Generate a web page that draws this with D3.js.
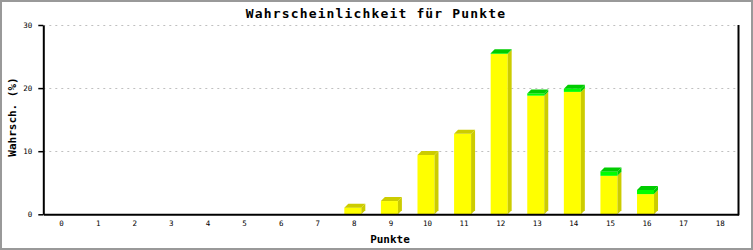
<!DOCTYPE html>
<html><head><meta charset="utf-8">
<script src="https://cdn.jsdelivr.net/npm/d3@7"></script>
<style>
html,body{margin:0;padding:0;background:#fff;}
svg{display:block;}
</style></head>
<body><svg id="c" width="753" height="250"></svg>
<script>
const categories = ["0","1","2","3","4","5","6","7","8","9","10","11","12","13","14","15","16","17","18"];
const yellowValues = [0,0,0,0,0,0,0,0,1.05,2.1,9.4,12.75,25.4,18.8,19.4,6.1,3.2,0,0];
const greenValues  = [0,0,0,0,0,0,0,0,0,0,0,0,0.12,0.35,0.5,0.7,0.65,0,0];
const yTicks = [0,10,20,30];
const title = "Wahrscheinlichkeit für Punkte";
const xTitle = "Punkte";
const yTitle = "Wahrsch. (%)";

const svg = d3.select("#c");
const L = 43.3, R = 738.5, T = 25, B = 214.3;
const x = d3.scaleBand().domain(categories).range([L, R]);
const y = d3.scaleLinear().domain([0,30]).range([B, T]);
const dx = 4, dy = 4, bw = 17;

svg.append("rect").attr("x",1).attr("y",1).attr("width",751).attr("height",248)
  .attr("fill","#fff").attr("stroke","#999").attr("stroke-width",2);

// grid
svg.append("g").selectAll("line").data(yTicks.filter(d=>d>0)).join("line")
  .attr("x1",L).attr("x2",R).attr("y1",d=>Math.round(y(d))+0.5).attr("y2",d=>Math.round(y(d))+0.5)
  .attr("stroke","#c0c0c0").attr("stroke-width",1).attr("stroke-dasharray","2,4");

// bars
const g = svg.append("g");
categories.forEach((c,i)=>{
  const segs = [
    {v0:0, v1:yellowValues[i], front:"#ffff00", side:"#cccc00", top:"#cccc00"},
    {v0:yellowValues[i], v1:yellowValues[i]+greenValues[i], front:"#00ff00", side:"#00cc00", top:"#00cc00"}
  ].filter(s=>s.v1>s.v0);
  if(!segs.length) return;
  const x0 = x(c) + x.bandwidth()/2 - bw/2 - 1.5;
  const x1 = x0 + bw;
  segs.forEach((s,k)=>{
    const yt = y(s.v1), yb = y(s.v0);
    g.append("rect").attr("x",x0).attr("y",yt).attr("width",bw).attr("height",yb-yt).attr("fill",s.front);
    g.append("polygon").attr("points",[[x1,yb],[x1,yt],[x1+dx,yt-dy],[x1+dx,yb-dy]].map(p=>p.join(",")).join(" "))
      .attr("fill",s.side);
    if(k===segs.length-1){
      g.append("polygon").attr("points",[[x0,yt],[x0+dx,yt-dy],[x1+dx,yt-dy],[x1,yt]].map(p=>p.join(",")).join(" "))
        .attr("fill",s.top);
    }
  });
});

// axes
const ya = svg.append("g").attr("transform",`translate(${L},0)`)
  .call(d3.axisLeft(y).tickValues(yTicks).tickSize(5).tickSizeOuter(0).tickPadding(6));
ya.select(".domain").attr("stroke","#000").attr("stroke-width",2);
ya.selectAll(".tick line").attr("stroke","#000").attr("stroke-width",1.5);
ya.selectAll("text").attr("font-family","DejaVu Sans Mono").attr("font-size","7.5px").attr("fill","#000");

const xa = svg.append("g").attr("transform",`translate(0,${B})`)
  .call(d3.axisBottom(x).tickSize(0).tickPadding(6));
xa.select(".domain").attr("stroke","#000").attr("stroke-width",2);
xa.selectAll("text").attr("font-family","DejaVu Sans Mono").attr("font-size","7.5px").attr("fill","#000");

svg.append("line").attr("x1",R).attr("x2",R).attr("y1",T).attr("y2",B+1)
  .attr("stroke","#000").attr("stroke-width",2);

// titles
svg.append("text").attr("x",376).attr("y",18).attr("text-anchor","middle")
  .attr("font-family","DejaVu Sans Mono").attr("font-weight","bold").attr("font-size","13px")
  .attr("letter-spacing","1.15px").text(title);
svg.append("text").attr("x",390).attr("y",243).attr("text-anchor","middle")
  .attr("font-family","DejaVu Sans Mono").attr("font-weight","bold").attr("font-size","11px").text(xTitle);
svg.append("text").attr("transform","translate(16,117) rotate(-90)").attr("text-anchor","middle")
  .attr("font-family","DejaVu Sans Mono").attr("font-weight","bold").attr("font-size","11px").text(yTitle);
</script></body></html>
